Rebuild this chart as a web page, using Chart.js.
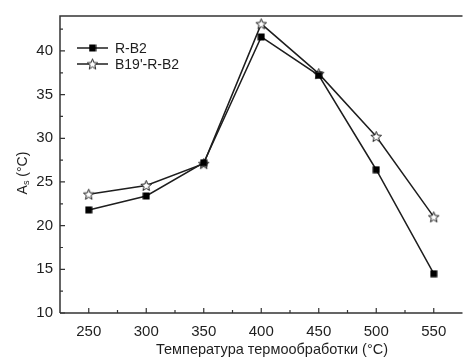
<!DOCTYPE html>
<html>
<head>
<meta charset="utf-8">
<script src="https://cdn.jsdelivr.net/npm/chart.js@4"></script>
<style>
  html, body { margin: 0; padding: 0; background: #fff; overflow: hidden; }
  #wrap { width: 470px; height: 358px; }
</style>
</head>
<body>
<div id="wrap"><canvas id="chart"></canvas></div>
<script>
const temps = [250, 300, 350, 400, 450, 500, 550]
const rB2 = [21.8, 23.4, 27.2, 41.6, 37.2, 26.4, 14.5]
const b19RB2 = [23.6, 24.6, 27.1, 43.1, 37.4, 30.2, 21.0]
const seriesNames = ['R-B2', "B19'-R-B2"]
const xTicks = [250, 300, 350, 400, 450, 500, 550]
const xMinor = [275, 325, 375, 425, 475, 525]
const yTicks = [10, 15, 20, 25, 30, 35, 40]
const yMinor = [12.5, 17.5, 22.5, 27.5, 32.5, 37.5, 42.5]

const ink = '#1e1e1e'
const font = 'Liberation Sans, Arial, sans-serif'

function makeSquare() {
    const c = document.createElement('canvas')
    c.width = 8; c.height = 8
    const g = c.getContext('2d')
    g.fillStyle = '#000'
    g.fillRect(0.5, 0.5, 7, 7)
    return c
}

function makeStar() {
    const c = document.createElement('canvas')
    c.width = 13; c.height = 13
    const g = c.getContext('2d')
    g.beginPath()
    for (let i = 0; i < 10; i++) {
        const r = i % 2 === 0 ? 5.6 : 2.4
        const a = -Math.PI / 2 + i * Math.PI / 5
        const px = 6.5 + r * Math.cos(a), py = 7 + r * Math.sin(a)
        if (i === 0) g.moveTo(px, py); else g.lineTo(px, py)
    }
    g.closePath()
    g.fillStyle = '#fff'
    g.fill()
    g.strokeStyle = '#222'
    g.lineWidth = 1
    g.stroke()
    return c
}

const markers = [makeSquare(), makeStar()]

const framePlugin = {
    id: 'frame',
    afterDraw(chart) {
        const { ctx, chartArea: a, scales } = chart
        const x = scales.x, y = scales.y
        ctx.save()
        ctx.strokeStyle = '#333'
        ctx.lineWidth = 1.5
        ctx.beginPath()
        ctx.moveTo(a.left, a.bottom); ctx.lineTo(a.left, a.top); ctx.lineTo(a.right, a.top)
        ctx.moveTo(a.left, a.bottom); ctx.lineTo(a.right, a.bottom)
        ctx.stroke()

        // inward ticks
        ctx.lineWidth = 1.2
        ctx.beginPath()
        xTicks.forEach(v => { const p = x.getPixelForValue(v); ctx.moveTo(p, a.bottom); ctx.lineTo(p, a.bottom - 5) })
        xMinor.forEach(v => { const p = x.getPixelForValue(v); ctx.moveTo(p, a.bottom); ctx.lineTo(p, a.bottom - 3) })
        yTicks.forEach(v => { const p = y.getPixelForValue(v); ctx.moveTo(a.left, p); ctx.lineTo(a.left + 5, p) })
        yMinor.forEach(v => { const p = y.getPixelForValue(v); ctx.moveTo(a.left, p); ctx.lineTo(a.left + 3, p) })
        ctx.stroke()

        // legend
        ctx.font = '14px ' + font
        ctx.textBaseline = 'middle'
        ctx.fillStyle = ink
        chart.data.datasets.forEach((ds, i) => {
            const ly = a.top + 32 + i * 16
            const lx = a.left + 17
            ctx.strokeStyle = ink
            ctx.lineWidth = 1.5
            ctx.beginPath(); ctx.moveTo(lx, ly); ctx.lineTo(lx + 31, ly); ctx.stroke()
            const m = markers[i]
            ctx.drawImage(m, lx + 15.5 - m.width / 2, ly - m.height / 2)
            ctx.fillText(ds.label, lx + 38, ly + 1)
        })

        // axis titles
        ctx.textAlign = 'center'
        ctx.font = '14.5px ' + font
        ctx.fillText('Температура термообработки (°C)', 272, 350)

        ctx.translate(23, 173)
        ctx.rotate(-Math.PI / 2)
        ctx.textAlign = 'left'
        const big = '14px ' + font, small = '9px ' + font
        ctx.font = big; const wA = ctx.measureText('A').width
        ctx.font = small; const wS = ctx.measureText('s').width
        ctx.font = big; const wR = ctx.measureText(' (°C)').width
        let sx = -(wA + wS + wR) / 2
        ctx.fillText('A', sx, 0); sx += wA
        ctx.font = small; ctx.fillText('s', sx, 4); sx += wS
        ctx.font = big; ctx.fillText(' (°C)', sx, 0)
        ctx.restore()
    }
}

new Chart(document.getElementById('chart'), {
    type: 'line',
    data: {
        datasets: [
            {
                label: seriesNames[0],
                data: temps.map((t, i) => ({ x: t, y: rB2[i] })),
                borderColor: ink, borderWidth: 1.5,
                pointStyle: markers[0], pointRadius: 4
            },
            {
                label: seriesNames[1],
                data: temps.map((t, i) => ({ x: t, y: b19RB2[i] })),
                borderColor: ink, borderWidth: 1.5,
                pointStyle: markers[1], pointRadius: 6
            }
        ]
    },
    options: {
        responsive: true,
        maintainAspectRatio: false,
        animation: false,
        layout: { padding: { left: 0, right: 2.6, top: 15, bottom: 0 } },
        plugins: { legend: { display: false }, tooltip: { enabled: false } },
        scales: {
            x: {
                type: 'linear', min: 225, max: 575,
                afterBuildTicks: s => { s.ticks = xTicks.map(v => ({ value: v })) },
                afterFit: s => { s.height = 45 },
                grid: { display: false, drawTicks: false },
                border: { display: false },
                ticks: { color: ink, padding: 10, maxRotation: 0, font: { family: font, size: 15 } }
            },
            y: {
                min: 10, max: 44,
                afterBuildTicks: s => { s.ticks = yTicks.map(v => ({ value: v })) },
                afterFit: s => { s.width = 60 },
                grid: { display: false, drawTicks: false },
                border: { display: false },
                ticks: { color: ink, padding: 7, font: { family: font, size: 15 } }
            }
        }
    },
    plugins: [framePlugin]
})
</script>
</body>
</html>
